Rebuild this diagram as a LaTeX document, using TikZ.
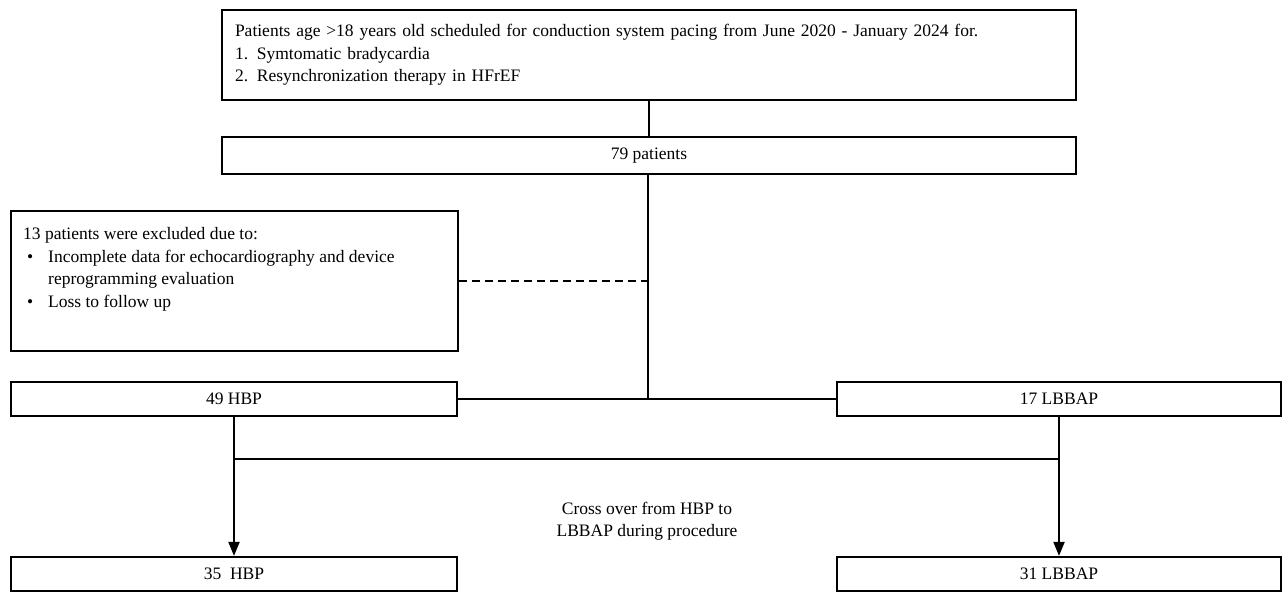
\documentclass[tikz,border=0pt]{standalone}
\usepackage{fontspec}
\setmainfont{Liberation Serif}
\usepackage{tikz}
\usetikzlibrary{arrows.meta,positioning}

\begin{document}
\begin{tikzpicture}
[x=1pt, y=-1pt,
% STYLES
every node/.style={font=\fontsize{17.5}{22.5}\selectfont},
% The box style is used to draw the boxes of the flow
box/.style={rectangle, draw, line width=2.2pt, inner sep=0pt},
% The list style is used for the left aligned texts
list/.style={inner sep=0pt, align=left},
% The link style is used to draw the lines between boxes
link/.style={line width=2pt},
arrowlink/.style={line width=2pt, -{Triangle[length=14pt,width=11pt]}}]

\useasboundingbox (0,0) rectangle (1283,592);

% Draw boxes
\node [box, minimum width=854pt, minimum height=90pt, text width=828pt, align=left] (screened) at (649,55)
  {Patients age >18 years old scheduled for conduction system pacing from June 2020 - January 2024 for.\\
   1. Symtomatic bradycardia\\
   2. Resynchronization therapy in HFrEF};
\node [box, minimum width=854pt, minimum height=37pt] (enrolled) at (649,155.5) {79 patients};
\node [box, minimum width=447pt, minimum height=140pt] (excluded) at (234.5,281) {};
\node [list, anchor=north west] (excluded-text) at (23,227.5)
  {13 patients were excluded due to:\\
   \hspace*{4pt}\makebox[21pt][l]{\textbullet}Incomplete data for echocardiography and device\\
   \hspace*{25pt}reprogramming evaluation\\
   \hspace*{4pt}\makebox[21pt][l]{\textbullet}Loss to follow up};
\node [box, minimum width=446pt, minimum height=34pt] (hbp) at (234,399) {49 HBP};
\node [box, minimum width=444pt, minimum height=34pt] (lbbap) at (1059,399) {17 LBBAP};
\node [box, minimum width=446pt, minimum height=34pt] (hbp-final) at (234,574) {35\ \ HBP};
\node [box, minimum width=444pt, minimum height=34pt] (lbbap-final) at (1059,574) {31 LBBAP};

% CROSS OVER
\node [align=center, inner sep=0pt] (crossover) at (647,521) {Cross over from HBP to\\LBBAP during procedure};

% Junction points
\coordinate (split) at (648,399);
\coordinate (cross) at (0,459);

% Draw the links between boxes
\path[link]
    (screened) edge (enrolled)
    (enrolled.south -| split) edge (split)
    (hbp) edge (lbbap)
    (hbp.south |- cross) edge (lbbap.south |- cross);
\draw[link, dash pattern=on 8pt off 5pt] (excluded.east) -- (excluded.east -| split);
\path[arrowlink]
    (hbp) edge (hbp-final)
    (lbbap) edge (lbbap-final);

\end{tikzpicture}
\end{document}
